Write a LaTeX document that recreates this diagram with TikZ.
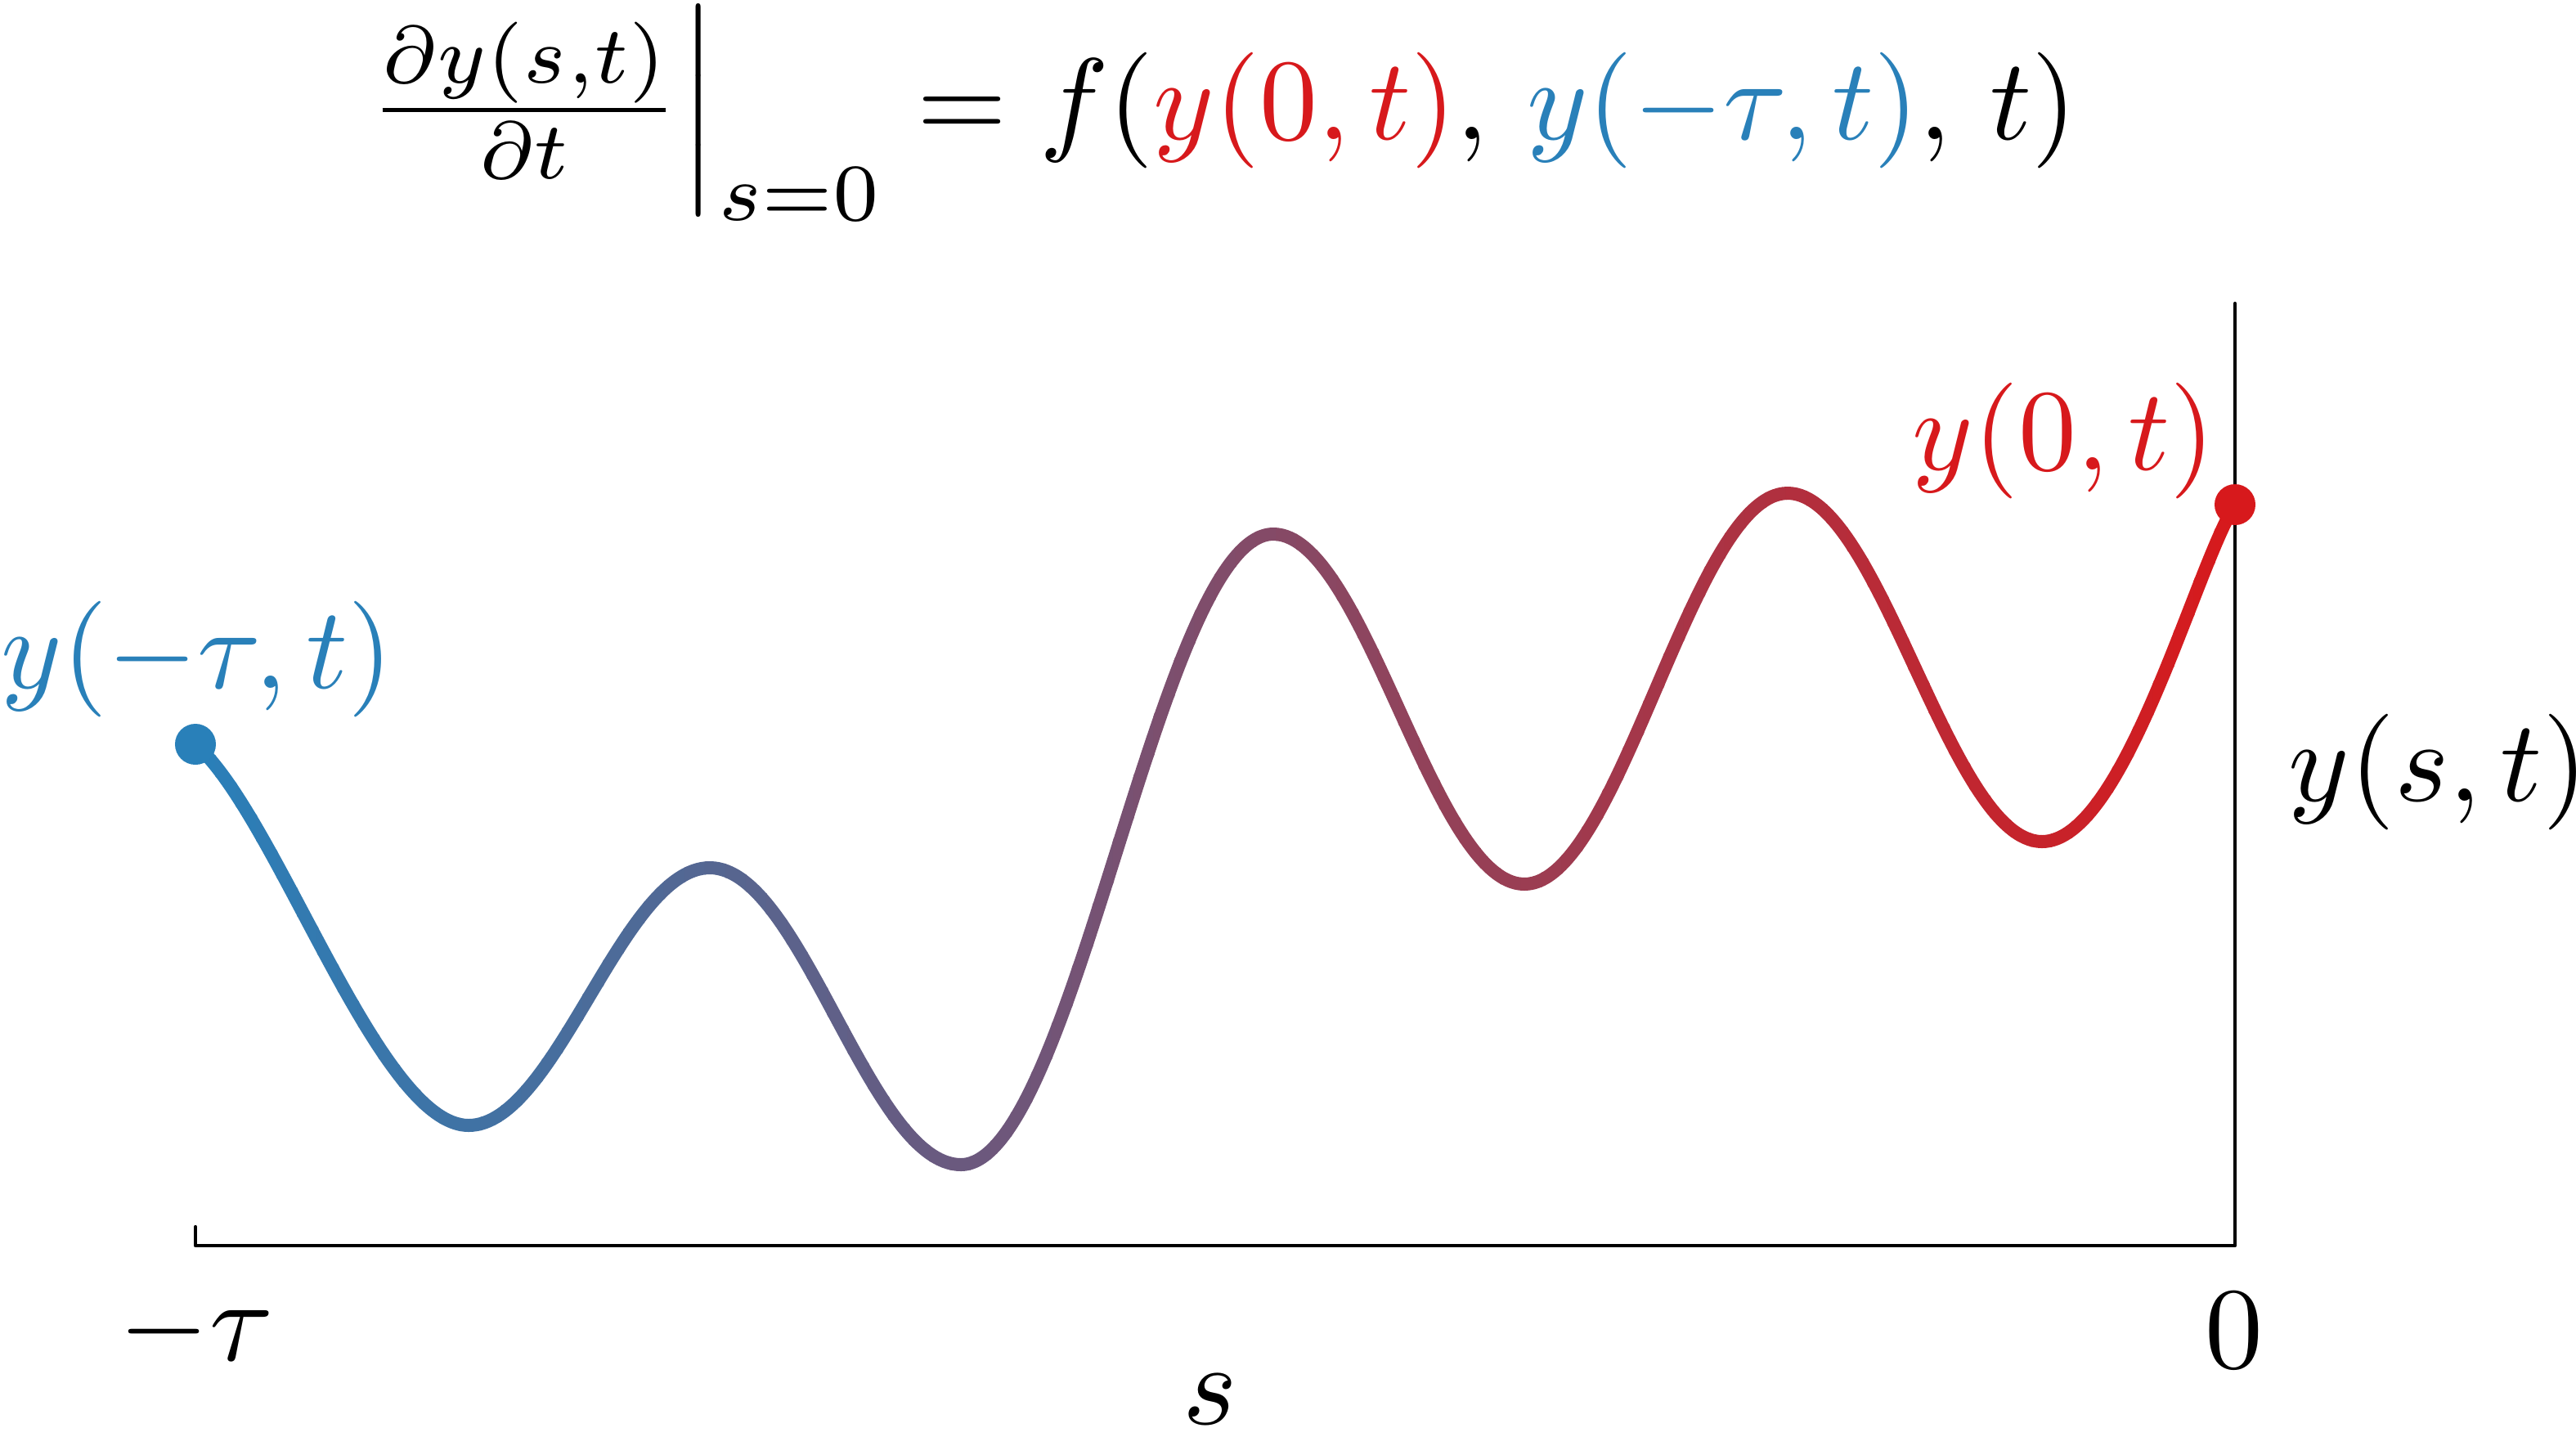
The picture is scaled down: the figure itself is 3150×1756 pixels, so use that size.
\documentclass[tikz,border=0pt]{standalone}
\usepackage{graphicx}
\usepackage{xcolor}
\definecolor{cblue}{RGB}{41,128,185}
\definecolor{cred}{RGB}{215,25,28}
\newcommand{\sclx}[1]{\scalebox{4.03}{#1}}
\newcommand{\wavepath}{(239,910) .. controls (339,997) and (463,1376) .. (573,1376)
 .. controls (680,1376) and (761,1061) .. (868,1061)
 .. controls (980,1061) and (1063,1424) .. (1175,1424)
 .. controls (1314,1424) and (1418,653) .. (1557,653)
 .. controls (1669,653) and (1752,1081) .. (1864,1081)
 .. controls (1981,1081) and (2069,603) .. (2186,603)
 .. controls (2299,603) and (2384,1029) .. (2497,1029)
 .. controls (2597,1029) and (2683,697) .. (2733,617)}
\tikzset{
  lbl/.style={inner sep=0pt},
  axisline/.style={line width=1.22pt, line join=round, line cap=round, draw=black},
  wave/.style={line width=4.55pt, line cap=round, line join=round},
  enddot/.style={circle, inner sep=0pt, minimum size=0.5cm, fill=#1}
}
\begin{document}
\begin{tikzpicture}[x=0.01cm, y=-0.01cm]
\useasboundingbox (0,0) rectangle (3150,1756);
% axes
\coordinate (tk) at (239,1500);
\coordinate (o1) at (239,1523);
\coordinate (o2) at (2733,1523);
\coordinate (top) at (2733,371);
\draw[axisline] (tk) -- (o1) -- (o2) -- (top);
% gradient curve
\foreach \i in {0,...,99}{
  \pgfmathsetmacro{\xa}{239+24.94*\i}
  \pgfmathsetmacro{\xb}{\xa+24.94}
  \pgfmathsetmacro{\pc}{\i+0.5}
  \begin{scope}
    \clip (\xa-0.7,0) rectangle (\xb+0.7,1756);
    \draw[wave, draw=cred!\pc!cblue] \wavepath;
  \end{scope}
}
% end dots
\node[enddot=cblue] (pA) at (239,910) {};
\node[enddot=cred] (pB) at (2733,617) {};
% labels
\node[lbl, anchor=base west, text=cblue] (lA) at (1,841) {\sclx{$y(-\tau,t)$}};
\node[lbl, anchor=base west, text=cred] (lB) at (2338,574) {\sclx{$y(0,t)$}};
\node[lbl, anchor=base west] (ylab) at (2798,979) {\sclx{$y(s,t)$}};
\node[lbl, anchor=base] (xlab) at (1480,1741) {\sclx{$s$}};
\node[lbl, anchor=north] (tL) at (240,1580) {\sclx{$-\tau$}};
\node[lbl, anchor=north] (tR) at (2732,1580) {\sclx{$0$}};
% equation
\node[lbl, anchor=base west] (eq) at (450,170)
  {\sclx{$\frac{\partial y(s,t)}{\partial t}\Big|_{s=0} = f(\textcolor{cred}{y(0,t)},\, \textcolor{cblue}{y(-\tau,t)},\, t)$}};
\end{tikzpicture}
\end{document}
